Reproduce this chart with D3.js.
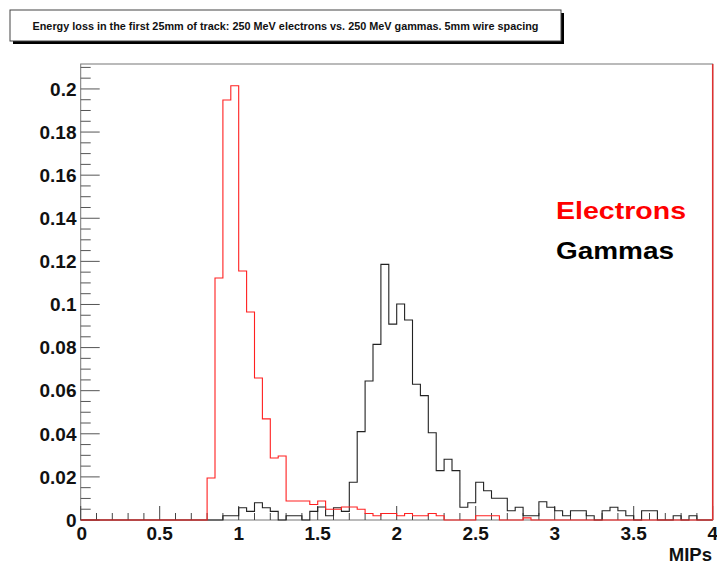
<!DOCTYPE html>
<html>
<head>
<meta charset="utf-8">
<script src="https://cdn.jsdelivr.net/npm/d3@7"></script>
<style>
  html, body { margin: 0; padding: 0; background: #fff; }
  svg { display: block; font-family: "Liberation Sans", Arial, sans-serif; }
</style>
</head>
<body>
<svg id="chart" width="717" height="565"></svg>
<script>
// Histogram binning: 80 bins of 0.05 MIP between 0 and 4
const xMin = 0, xMax = 4, nBins = 80;

// Normalised energy-loss distributions (fraction of events per bin)
const electrons = [
  0, 0, 0, 0, 0, 0, 0, 0, 0, 0,
  0, 0, 0, 0, 0, 0, 0.0195, 0.1123, 0.1949, 0.2015,
  0.1155, 0.0965, 0.0659, 0.0469, 0.0288, 0.0297, 0.0088, 0.0088, 0.0088, 0.0072,
  0.0088, 0.005, 0.005, 0.006, 0.006, 0.005, 0.003, 0.002, 0.003, 0.003,
  0.002, 0.003, 0.002, 0.002, 0.003, 0.002, 0, 0, 0, 0,
  0.002, 0.002, 0.002, 0, 0, 0, 0.001, 0, 0, 0,
  0, 0, 0, 0, 0, 0, 0, 0, 0, 0,
  0, 0, 0, 0, 0, 0, 0, 0, 0, 0
];
const gammas = [
  0, 0, 0, 0, 0, 0, 0, 0, 0, 0,
  0, 0, 0, 0, 0, 0, 0, 0, 0.002, 0.002,
  0.0057, 0.004, 0.008, 0.0057, 0.004, 0, 0.002, 0.002, 0, 0.004,
  0.006, 0.002, 0.0057, 0.004, 0.0175, 0.041, 0.0645, 0.0815, 0.1186, 0.0909,
  0.1002, 0.0928, 0.063, 0.0577, 0.0405, 0.0229, 0.0282, 0.0229, 0.0059, 0.008,
  0.0175, 0.0136, 0.0101, 0.0101, 0.0043, 0.0059, 0.002, 0.002, 0.0085, 0.0059,
  0.0043, 0.002, 0.0043, 0.0043, 0.002, 0, 0.0043, 0.0059, 0.0043, 0.002,
  0, 0.0043, 0.0043, 0, 0, 0.002, 0, 0.002, 0, 0
];

const xTickValues = [0, 0.5, 1, 1.5, 2, 2.5, 3, 3.5, 4];
const yTickValues = [0, 0.02, 0.04, 0.06, 0.08, 0.1, 0.12, 0.14, 0.16, 0.18, 0.2];

const titleText = "Energy loss in the first 25mm of track: 250 MeV electrons vs. 250 MeV gammas. 5mm wire spacing";
const xTitle = "MIPs";
const legendItems = [
  { label: "Electrons", color: "#ff0000", width: 130 },
  { label: "Gammas", color: "#000000", width: 118 }
];

const svg = d3.select("#chart");
const frame = { left: 80.7, right: 712.7, top: 64, bottom: 520 };
const yMax = 1.05 * d3.max(electrons.concat(gammas));

const x = d3.scaleLinear().domain([xMin, xMax]).range([frame.left, frame.right]);
const y = d3.scaleLinear().domain([0, yMax]).range([frame.bottom, frame.top]);

const binW = (xMax - xMin) / nBins;

// Title box with drop shadow
const tb = { x: 10, y: 10, w: 551, h: 31 };
svg.append("rect").attr("x", tb.x + 3).attr("y", tb.y + 3).attr("width", tb.w).attr("height", tb.h).attr("fill", "#000");
svg.append("rect").attr("x", tb.x).attr("y", tb.y).attr("width", tb.w).attr("height", tb.h)
  .attr("fill", "#fff").attr("stroke", "#444").attr("stroke-width", 1);
svg.append("text").attr("x", tb.x + tb.w / 2).attr("y", tb.y + 19.5)
  .attr("text-anchor", "middle").attr("font-size", 10.5).attr("font-weight", "bold")
  .attr("textLength", 506).attr("lengthAdjust", "spacingAndGlyphs")
  .attr("fill", "#111").text(titleText);

// Frame
svg.append("rect").attr("x", frame.left).attr("y", frame.top)
  .attr("width", frame.right - frame.left).attr("height", frame.bottom - frame.top)
  .attr("fill", "none").attr("stroke", "#777").attr("stroke-width", 1);

// Step outline of a histogram, closed to the baseline at both ends
function stepPath(vals) {
  const pts = [[x(xMin), y(0)]];
  vals.forEach((v, i) => {
    pts.push([x(xMin + i * binW), y(v)]);
    pts.push([x(xMin + (i + 1) * binW), y(v)]);
  });
  pts.push([x(xMax), y(0)]);
  return d3.line()(pts);
}

// Axes: ROOT-style inward ticks
const axisG = svg.append("g");
const xMinor = d3.range(0, 41).map(i => i * 0.1);
axisG.selectAll(".xminor").data(xMinor).enter().append("line")
  .attr("x1", d => x(d)).attr("x2", d => x(d))
  .attr("y1", frame.bottom).attr("y2", d => frame.bottom - (Math.abs(d * 2 - Math.round(d * 2)) < 1e-6 ? 14 : 7))
  .attr("stroke", "#444").attr("stroke-width", 1);
const yMinor = d3.range(0, 43).map(i => i * 0.005).filter(v => v <= yMax);
axisG.selectAll(".yminor").data(yMinor).enter().append("line")
  .attr("x1", frame.left).attr("y1", d => y(d)).attr("y2", d => y(d))
  .attr("x2", (d, i) => frame.left + (i % 4 === 0 ? 19 : 10))
  .attr("stroke", "#555").attr("stroke-width", 1);

// Histograms
svg.append("path").attr("d", stepPath(gammas)).attr("fill", "none")
  .attr("stroke", "#222").attr("stroke-width", 1.1);
svg.append("path").attr("d", stepPath(electrons)).attr("fill", "none")
  .attr("stroke", "#ff2020").attr("stroke-width", 1.1);
svg.append("line").attr("x1", x(xMax)).attr("x2", x(xMax)).attr("y1", frame.top).attr("y2", frame.bottom)
  .attr("stroke", "#e03030").attr("stroke-width", 1.5);

// Tick labels
svg.selectAll(".xl").data(xTickValues).enter().append("text")
  .attr("x", d => x(d) + (d === 0 ? 1 : 0)).attr("y", 540)
  .attr("text-anchor", "middle").attr("font-size", 19).attr("font-weight", "bold")
  .attr("fill", "#111").text(d => d3.format("")(d));
svg.selectAll(".yl").data(yTickValues).enter().append("text")
  .attr("x", 76.5).attr("y", d => y(d) + 6.8)
  .attr("text-anchor", "end").attr("font-size", 19).attr("font-weight", "bold")
  .attr("fill", "#111").text(d => d3.format("")(d));

// Axis title
svg.append("text").attr("x", 712).attr("y", 561).attr("text-anchor", "end")
  .attr("font-size", 18.5).attr("font-weight", "bold").attr("fill", "#111").text(xTitle);

// Legend
svg.selectAll(".leg").data(legendItems).enter().append("text")
  .attr("x", 556).attr("y", (d, i) => 218.5 + i * 40)
  .attr("font-size", 24).attr("font-weight", "bold")
  .attr("textLength", d => d.width).attr("lengthAdjust", "spacingAndGlyphs")
  .attr("fill", d => d.color).text(d => d.label);
</script>
</body>
</html>
